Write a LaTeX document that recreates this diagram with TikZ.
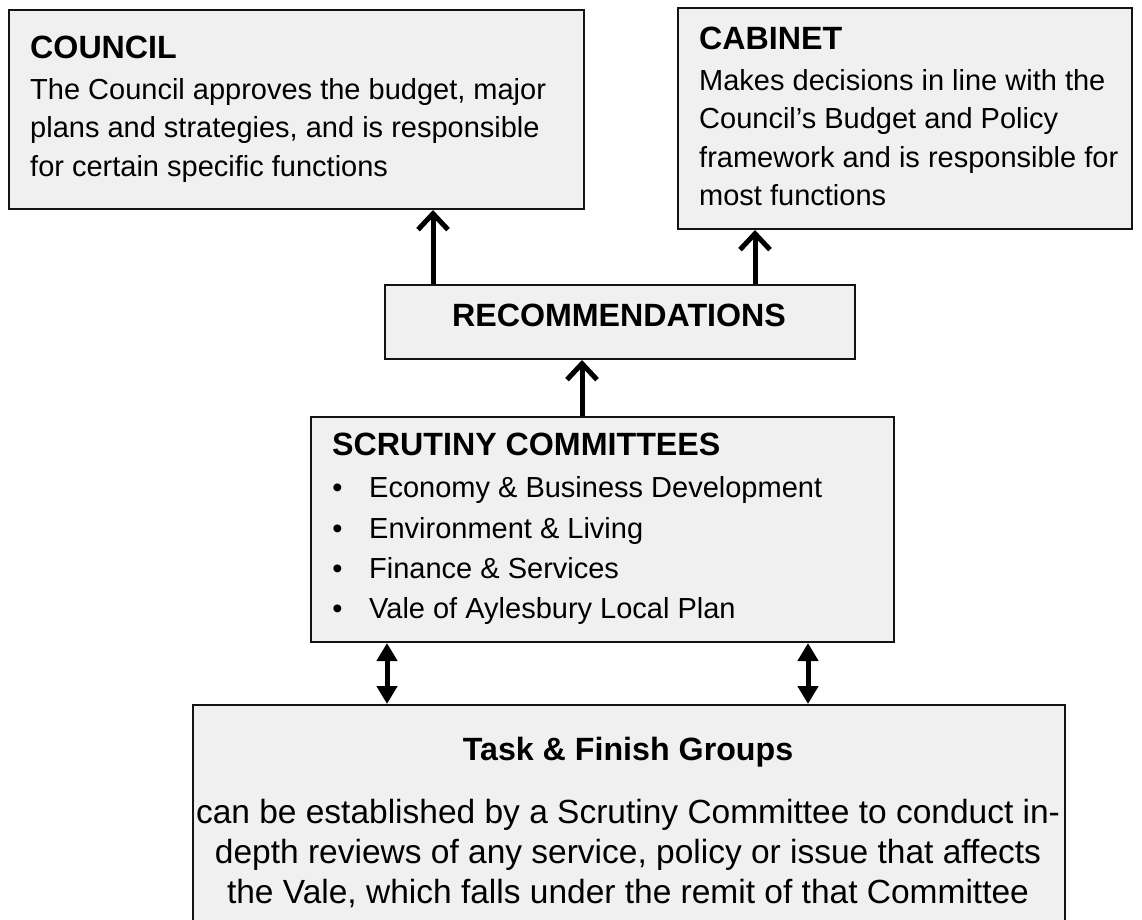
\documentclass[tikz,border=0pt]{standalone}
\usepackage{fontspec}
\setmainfont{Liberation Sans}
\usetikzlibrary{arrows.meta}
\definecolor{boxfill}{RGB}{240,240,240}
\definecolor{boxline}{RGB}{20,20,20}
\begin{document}
\begin{tikzpicture}[x=1pt,y=-1pt,
 box/.style={draw=boxline, line width=2pt, fill=boxfill, inner sep=0pt, anchor=north west},
 head/.style={anchor=base west, inner sep=0pt, font=\fontsize{32.2}{39}\selectfont\bfseries},
 body/.style={anchor=base west, inner sep=0pt, font=\fontsize{29}{38.5}\selectfont},
 bodyc/.style={anchor=base, inner sep=0pt, font=\fontsize{33.5}{39}\selectfont},
 headc/.style={head, anchor=base},
 bul/.style={anchor=base, inner sep=0pt, font=\fontsize{29}{38.5}\selectfont},
 uparrow/.style={line width=5pt, -{Straight Barb[length=16pt,width=30pt]}},
 duoarrow/.style={line width=5pt, {Triangle[length=18pt,width=20pt]}-{Triangle[length=18pt,width=20pt]}}
]
\useasboundingbox (0,0) rectangle (1142,919);
\clip (0,0) rectangle (1142,919);
% boxes
\node[box, minimum width=575pt, minimum height=199pt] (council) at (8,9) {};
\node[box, minimum width=454pt, minimum height=221pt] (cabinet) at (677,7) {};
\node[box, minimum width=470pt, minimum height=74pt] (rec) at (384,284) {};
\node[box, minimum width=583pt, minimum height=225pt] (scr) at (310,416) {};
\node[box, minimum width=872pt, minimum height=260pt] (tfg) at (192,704) {};
% council text
\node[head] (councilh) at (30,58) {COUNCIL};
\node[body] (councilb1) at (30,99) {The Council approves the budget, major};
\node[body] (councilb2) at (30,137.5) {plans and strategies, and is responsible};
\node[body] (councilb3) at (30,176) {for certain specific functions};
% cabinet text
\node[head] (cabineth) at (699,49) {CABINET};
\node[body] (cabinetb1) at (699,90) {Makes decisions in line with the};
\node[body] (cabinetb2) at (699,128.5) {Council’s Budget and Policy};
\node[body] (cabinetb3) at (699,167) {framework and is responsible for};
\node[body] (cabinetb4) at (699,205.5) {most functions};
% recommendations
\node[headc] (rech) at (619,326) {RECOMMENDATIONS};
% scrutiny
\node[head] (scrh) at (332,455) {SCRUTINY COMMITTEES};
\node[bul] (bul1) at (337.5,497) {\textbullet};
\node[bul] (bul2) at (337.5,538) {\textbullet};
\node[bul] (bul3) at (337.5,578) {\textbullet};
\node[bul] (bul4) at (337.5,618) {\textbullet};
\node[body] (scr1) at (369,497) {Economy \& Business Development};
\node[body] (scr2) at (369,538) {Environment \& Living};
\node[body] (scr3) at (369,578) {Finance \& Services};
\node[body] (scr4) at (369,618) {Vale of Aylesbury Local Plan};
% task & finish
\node[headc] (tfgh) at (628,760) {Task \& Finish Groups};
\node[bodyc] (tfgb1) at (628,823) {can be established by a Scrutiny Committee to conduct in-};
\node[bodyc] (tfgb2) at (628,863) {depth reviews of any service, policy or issue that affects};
\node[bodyc] (tfgb3) at (628,903) {the Vale, which falls under the remit of that Committee};
% connectors
\coordinate (xa) at (433,0);
\coordinate (xb) at (755,0);
\coordinate (xc) at (582,0);
\coordinate (xd) at (387,0);
\coordinate (xe) at (808,0);
\draw[uparrow] (rec.north -| xa) -- (council.south -| xa);
\draw[uparrow] (rec.north -| xb) -- (cabinet.south -| xb);
\draw[uparrow] (scr.north -| xc) -- (rec.south -| xc);
\draw[duoarrow] (scr.south -| xd) -- (tfg.north -| xd);
\draw[duoarrow] (scr.south -| xe) -- (tfg.north -| xe);
\end{tikzpicture}
\end{document}
